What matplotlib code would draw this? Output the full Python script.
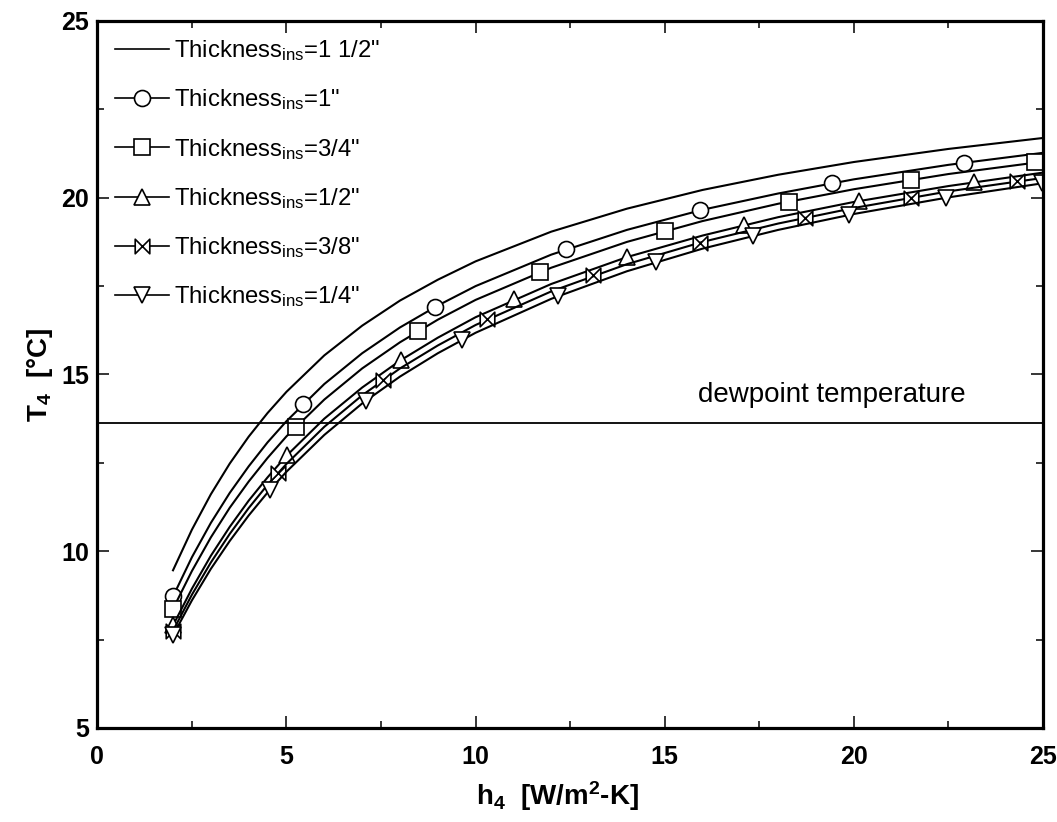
import matplotlib
matplotlib.use("Agg")
import matplotlib.pyplot as plt
from matplotlib.lines import Line2D
from matplotlib.path import Path

plt.rcParams['font.family'] = ['Liberation Sans', 'DejaVu Sans']
plt.rcParams['mathtext.default'] = 'regular'

# h4 [W/m2-K] where the curves were read
h4 = [2, 2.5, 3, 3.5, 4, 4.5, 5, 6, 7, 8, 9, 10, 12, 14, 16, 18, 20, 22.5, 25]

# T4 [C] for each insulation thickness
t4_1_1_2 = [9.46, 10.61, 11.61, 12.48, 13.24, 13.91, 14.51, 15.54, 16.38, 17.09,
            17.68, 18.20, 19.04, 19.69, 20.22, 20.65, 21.01, 21.38, 21.69]
t4_1 = [8.72, 9.83, 10.80, 11.65, 12.40, 13.08, 13.68, 14.73, 15.60, 16.33,
        16.95, 17.50, 18.39, 19.09, 19.66, 20.12, 20.52, 20.93, 21.27]
t4_3_4 = [8.37, 9.44, 10.39, 11.23, 11.97, 12.64, 13.25, 14.29, 15.17, 15.91,
          16.55, 17.11, 18.02, 18.75, 19.34, 19.83, 20.24, 20.67, 21.02]
t4_1_2 = [7.90, 8.94, 9.87, 10.69, 11.43, 12.09, 12.70, 13.75, 14.63, 15.39,
          16.04, 16.62, 17.56, 18.32, 18.93, 19.45, 19.88, 20.33, 20.71]
t4_3_8 = [7.75, 8.77, 9.68, 10.49, 11.22, 11.88, 12.47, 13.52, 14.41, 15.17,
          15.82, 16.40, 17.35, 18.12, 18.75, 19.27, 19.71, 20.18, 20.56]
t4_1_4 = [7.62, 8.61, 9.50, 10.29, 11.01, 11.66, 12.25, 13.29, 14.18, 14.94,
          15.60, 16.18, 17.14, 17.92, 18.56, 19.09, 19.54, 20.01, 20.41]

# marker positions along each curve
mk_h_1 = [2, 5.44, 8.93, 12.39, 15.92, 19.41, 22.92]
mk_t_1 = [8.72, 14.17, 16.91, 18.54, 19.64, 20.41, 20.99]
mk_h_3_4 = [2, 5.24, 8.48, 11.70, 15.0, 18.28, 21.52, 24.79]
mk_t_3_4 = [8.37, 13.52, 16.23, 17.90, 19.06, 19.89, 20.51, 21.0]
mk_h_1_2 = [2, 5.01, 8.02, 11.02, 14.0, 17.1, 20.14, 23.17]
mk_t_1_2 = [7.90, 12.71, 15.41, 17.13, 18.32, 19.23, 19.91, 20.44]
mk_h_3_8 = [2, 4.78, 7.56, 10.31, 13.10, 15.94, 18.72, 21.52, 24.3]
mk_t_3_8 = [7.75, 12.22, 14.85, 16.56, 17.80, 18.73, 19.44, 20.00, 20.46]
mk_h_1_4 = [2, 4.56, 7.10, 9.63, 12.19, 14.76, 17.33, 19.88, 22.43, 24.98]
mk_t_1_4 = [7.62, 11.73, 14.26, 15.97, 17.22, 18.18, 18.92, 19.51, 20.0, 20.41]

dewpoint = 13.63

labels = ['Thickness$_{ins}$=1 1/2"', 'Thickness$_{ins}$=1"',
          'Thickness$_{ins}$=3/4"', 'Thickness$_{ins}$=1/2"',
          'Thickness$_{ins}$=3/8"', 'Thickness$_{ins}$=1/4"']

# bowtie marker |X|
bowtie = Path([(-1, -1), (-1, 1), (1, -1), (1, 1), (-1, -1)],
              [Path.MOVETO, Path.LINETO, Path.LINETO, Path.LINETO, Path.CLOSEPOLY])

curves = [t4_1_1_2, t4_1, t4_3_4, t4_1_2, t4_3_8, t4_1_4]
markers = [None, 'o', 's', '^', bowtie, 'v']
mk_sizes = [0, 11.5, 11.5, 11.5, 10.5, 11.5]
mk_data = [(None, None), (mk_h_1, mk_t_1), (mk_h_3_4, mk_t_3_4),
           (mk_h_1_2, mk_t_1_2), (mk_h_3_8, mk_t_3_8), (mk_h_1_4, mk_t_1_4)]

fig = plt.figure(figsize=(10.57, 8.22), dpi=100)
ax = fig.add_axes([0.0921, 0.1144, 0.8947, 0.8601])

handles = []
for t, m, ms, (mh, mt), lab in zip(curves, markers, mk_sizes, mk_data, labels):
    ax.plot(h4, t, color='black', lw=1.5)
    if m is not None:
        ax.plot(mh, mt, linestyle='none', marker=m, markersize=ms,
                markerfacecolor='white', markeredgecolor='black', markeredgewidth=1.2)
    handles.append(Line2D([], [], color='black', lw=1.2, marker=m, markersize=ms,
                          markerfacecolor='white', markeredgecolor='black',
                          markeredgewidth=1.2, label=lab))

ax.axhline(dewpoint, color='black', lw=1.3)
ax.text(15.88, dewpoint + 0.6, 'dewpoint temperature', fontsize=20,
        ha='left', va='baseline')

leg = ax.legend(handles=handles, loc='upper left', frameon=False, fontsize=17.2,
                handlelength=2.3, handletextpad=0.2, labelspacing=1.02,
                borderpad=0, borderaxespad=0.72, numpoints=1)

ax.set_xlim(0, 25)
ax.set_ylim(5, 25)
ax.set_xticks([0, 5, 10, 15, 20, 25])
ax.set_xticks([2.5, 7.5, 12.5, 17.5, 22.5], minor=True)
ax.set_yticks([5, 10, 15, 20, 25])
ax.set_yticks([7.5, 12.5, 17.5, 22.5], minor=True)
ax.tick_params(which='both', direction='in', top=True, right=True, width=1.1)
ax.tick_params(which='major', length=8.5, labelsize=18)
ax.tick_params(which='minor', length=5)
ax.tick_params(axis='x', pad=12)
ax.tick_params(axis='y', pad=6)
for lbl in ax.get_xticklabels() + ax.get_yticklabels():
    lbl.set_fontweight('bold')
for sp in ax.spines.values():
    sp.set_linewidth(2.3)

ax.set_xlabel('h$_4$  [W/m$^2$-K]', fontsize=20, fontweight='bold')
ax.set_ylabel('T$_4$  [°C]', fontsize=20, fontweight='bold')
ax.xaxis.set_label_coords(0.487, -0.072)
ax.yaxis.set_label_coords(-0.045, 0.5)

fig.savefig('out.png', dpi=100)
